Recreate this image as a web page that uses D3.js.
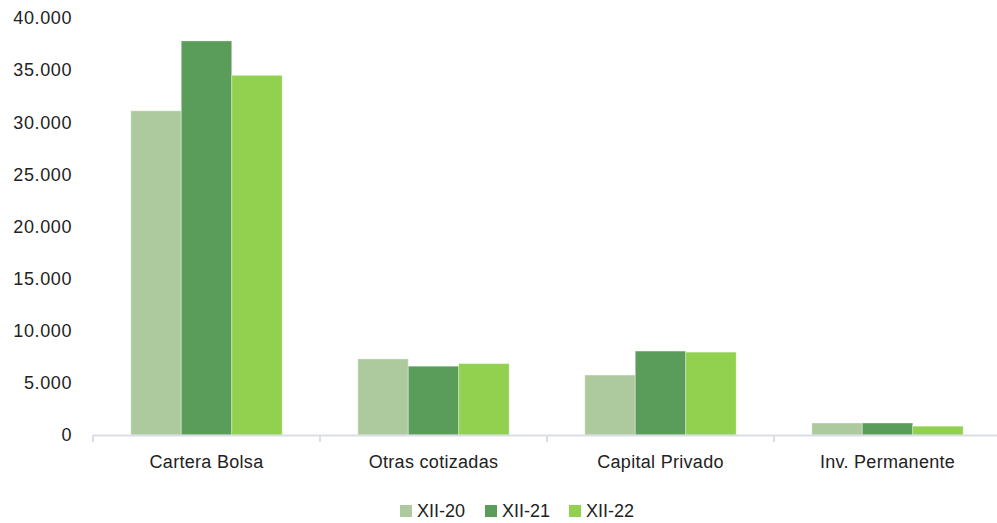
<!DOCTYPE html>
<html>
<head>
<meta charset="utf-8">
<script src="https://cdn.jsdelivr.net/npm/d3@7"></script>
<style>
  html, body { margin: 0; padding: 0; background: #fff; }
  svg { display: block; font-family: "Liberation Sans", Arial, sans-serif; }
</style>
</head>
<body>
<svg id="chart" width="997" height="523"></svg>
<script>
// Categories and series (thousands of euros)
const categories = ["Cartera Bolsa", "Otras cotizadas", "Capital Privado", "Inv. Permanente"];
const seriesNames = ["XII-20", "XII-21", "XII-22"];
const xii20 = [31100, 7300, 5750, 1150];
const xii21 = [37800, 6600, 8050, 1150];
const xii22 = [34500, 6850, 7950, 850];
const yTicks = [0, 5000, 10000, 15000, 20000, 25000, 30000, 35000, 40000];
const colors = ["#adca9f", "#5a9c59", "#92d050"];

const values = [xii20, xii21, xii22];
const rows = categories.map((c, i) => ({
  cat: c,
  vals: seriesNames.map((s, j) => ({ key: s, value: values[j][i], color: colors[j] }))
}));

const svg = d3.select("#chart");
const plot = { left: 93, right: 1001, top: 18, bottom: 435 };

const x0 = d3.scaleBand().domain(categories)
  .range([plot.left, plot.right]).paddingInner(1 / 3).paddingOuter(1 / 6);
const x1 = d3.scaleBand().domain(seriesNames).range([0, x0.bandwidth()]);
const y = d3.scaleLinear().domain([0, 40000]).range([plot.bottom, plot.top]);

const fmt = v => d3.format(",")(v).replace(/,/g, ".");

// Y axis labels (no axis line)
const yAxis = svg.append("g")
  .attr("transform", `translate(${plot.left - 21},0)`)
  .call(d3.axisLeft(y).tickValues(yTicks).tickFormat(fmt).tickSize(0).tickPadding(0));
yAxis.select(".domain").remove();
yAxis.selectAll("text")
  .attr("font-size", 18)
  .attr("letter-spacing", 0.6)
  .attr("fill", "#222")
  .attr("font-family", "Liberation Sans, Arial, sans-serif");

// Bars
const groups = svg.append("g").selectAll("g").data(rows).join("g")
  .attr("transform", d => `translate(${x0(d.cat)},0)`);
groups.selectAll("rect").data(d => d.vals).join("rect")
  .attr("x", d => x1(d.key))
  .attr("y", d => y(d.value))
  .attr("width", x1.bandwidth())
  .attr("height", d => y(0) - y(d.value))
  .attr("fill", d => d.color)
  .attr("stroke", "#ffffff")
  .attr("stroke-opacity", 0.35)
  .attr("stroke-width", 1);

// Category axis with tick marks at group boundaries
const step = x0.step();
const boundaries = d3.range(categories.length + 1).map(i => plot.left + i * step);
const xAxis = svg.append("g");
xAxis.append("line")
  .attr("x1", plot.left).attr("x2", plot.right)
  .attr("y1", y(0) + 0.5).attr("y2", y(0) + 0.5)
  .attr("stroke", "#d9dee6").attr("stroke-width", 2);
xAxis.selectAll("line.tk").data(boundaries).join("line").attr("class", "tk")
  .attr("x1", d => d).attr("x2", d => d)
  .attr("y1", y(0)).attr("y2", y(0) + 7)
  .attr("stroke", "#d9dee6").attr("stroke-width", 2);
xAxis.selectAll("text").data(categories).join("text")
  .attr("x", d => x0(d) + x0.bandwidth() / 2)
  .attr("y", 468)
  .attr("text-anchor", "middle")
  .attr("font-size", 18)
  .attr("letter-spacing", 0.3)
  .attr("fill", "#222")
  .text(d => d);

// Legend
const legendX = [400, 485, 569];
const legend = svg.append("g").selectAll("g").data(seriesNames).join("g")
  .attr("transform", (d, i) => `translate(${legendX[i]},505)`);
legend.append("rect").attr("width", 12).attr("height", 12).attr("fill", (d, i) => colors[i]);
legend.append("text").attr("x", 17).attr("y", 12)
  .attr("font-size", 18).attr("fill", "#222").text(d => d);
</script>
</body>
</html>
